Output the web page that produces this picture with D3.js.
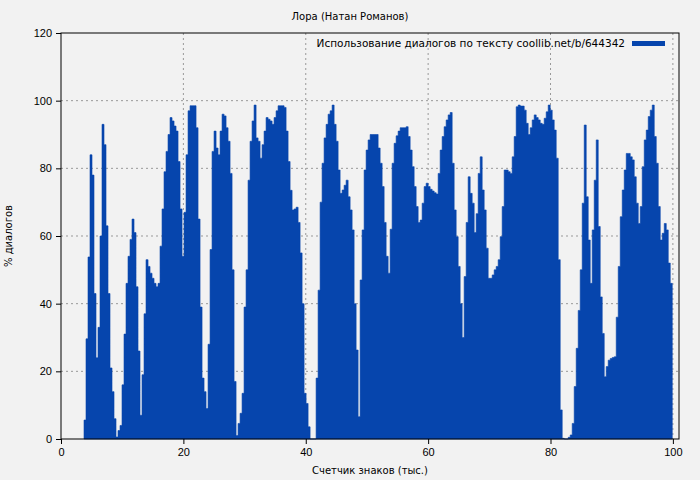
<!DOCTYPE html>
<html><head><meta charset="utf-8">
<script src="https://cdn.jsdelivr.net/npm/d3@7"></script>
<style>
body{margin:0;background:#f2f2f2;}
svg{font-family:"DejaVu Sans",sans-serif;}
</style></head>
<body><div id="chart"></div>
<script>
var title = 'Лора (Натан Романов)';
var legendLabel = 'Использование диалогов по тексту coollib.net/b/644342';
var xLabel = 'Счетчик знаков (тыс.)';
var yLabel = '% диалогов';
var xTicks = [0, 20, 40, 60, 80, 100];
var yTicks = [0, 20, 40, 60, 80, 100, 120];

// bins of the text, thousands of characters
var binStart = 3.76;
var binStep = 0.327;

// percent of dialogue per bin
var part1 = [5.6,29.6,53.8,84,78,43,24,33,60,93,87,63,43,21,14,6,0.6,2.5,4,16,31,46,54,59,65,61,45,26,7,19,37,53,51,49,47.5,46,45,46,57,68,79,85,90,95,94,92.5,91,82,68,54,67,84,97,98.5,98.5,98.5,92,65,39,18,14,9,28,56,85,91,86,84];
var part2 = [91,96,95.5,92,88,78.5,50,17,1,4.6,7.6,13.5,39,50,76.5,88,94,98.7,89,88,83,87,91,95,94.5,94,93,95,97,98.5,98.5,98.5,98,91,82,73.5,67.7,68,68.5,64,55,40,13.5,10.5,3.6,0,0,0,18,44,70,81.5,89,93,96,97,98.7,93,88,79.5,72.6,73.6,75,76.5,71.6,67.7,61.8,40,26.3,6.6,47,61.8,79.5,85.4,88.4,90,90];
var part3 = [90,90,86,81.5,74.6,64,54,49,62,81.5,87.4,89.6,91,92,92,92,92.3,89.4,85.4,80.5,74.6,68.7,64,64.7,69.7,74.6,75.6,74.6,73.8,73.3,72.8,72.4,78.5,85.4,89.4,92.3,94.3,95.8,96.5,81.5,67.7,59.8,51,40,30,48,64,77.5,72.6,69.7,61,66.6,78.5,83.4,73.6,67.7,56.4,47.5,47.5,48.5,50,51,53,59.8,68.7,79.5,79.5,79,78.5,83.4,89.4,98.2,98.7,98.4,98.4,97.2,93.3];
var part4 = [90,92,94.3,95.8,95,94.3,93.3,93,94.8,96.7,98.7,97.2,94.3,91.3,83,53,8.6,0.2,0,0,0.5,1.2,4.6,15.5,26.8,38,50,69.7,92.8,71.6,58.8,46,61.8,76.5,88.4,62.8,42,31.2,18.4,21.4,23.3,23.8,24.1,24.3,36,51,65.7,73.6,79.5,84.4,84.4,83.4,82.5,77.5,69.7,63.7,68.7,80.5,88.4,91.3,95.3,97.2,98.7,89.4,81.5,68.7,58.8,60.8,63.7,61.8,52,46];

var values = part1.concat(part2, part3, part4);

var width = 700, height = 480;
var margin = { top: 33, right: 21, bottom: 41, left: 61 };
var innerWidth = width - margin.left - margin.right;
var innerHeight = height - margin.top - margin.bottom;

var data = values.map(function(v, i){ return { x: binStart + i * binStep, y: v }; });
data.push({ x: binStart + values.length * binStep, y: values[values.length - 1] });

var svg = d3.select('#chart').append('svg')
    .attr('width', width).attr('height', height);
svg.append('rect').attr('width', width).attr('height', height).attr('fill', '#f2f2f2');

var g = svg.append('g').attr('transform', 'translate(' + margin.left + ',' + margin.top + ')');

var x = d3.scaleLinear().domain([0, 101]).range([0, innerWidth]);
var y = d3.scaleLinear().domain([0, 120]).range([innerHeight, 0]);

// grid
g.append('g').selectAll('line')
    .data(xTicks.filter(function(t){ return t > 0 && t < 101; }))
    .enter().append('line')
    .attr('x1', function(d){ return x(d); }).attr('x2', function(d){ return x(d); })
    .attr('y1', 0).attr('y2', innerHeight)
    .attr('stroke', '#999').attr('stroke-dasharray', '2,3');
g.append('g').selectAll('line')
    .data(yTicks.filter(function(t){ return t > 0 && t < 120; }))
    .enter().append('line')
    .attr('x1', 0).attr('x2', innerWidth)
    .attr('y1', function(d){ return y(d); }).attr('y2', function(d){ return y(d); })
    .attr('stroke', '#999').attr('stroke-dasharray', '2,3');

var area = d3.area()
    .x(function(d){ return x(d.x); })
    .y0(innerHeight)
    .y1(function(d){ return y(d.y); })
    .curve(d3.curveStepAfter);

g.append('path').datum(data)
    .attr('fill', '#0645ad')
    .attr('stroke', '#0645ad')
    .attr('stroke-width', 0.6)
    .attr('stroke-linejoin', 'miter')
    .attr('d', area);

// frame
g.append('rect').attr('width', innerWidth).attr('height', innerHeight)
    .attr('fill', 'none').attr('stroke', '#000').attr('stroke-width', 1);

var xAxis = g.append('g')
    .attr('transform', 'translate(0,' + innerHeight + ')')
    .call(d3.axisBottom(x).tickValues(xTicks).tickSize(5).tickPadding(4));
var yAxis = g.append('g')
    .call(d3.axisLeft(y).tickValues(yTicks).tickSize(5).tickPadding(4));
[xAxis, yAxis].forEach(function(a){
    a.select('.domain').remove();
    a.selectAll('text').style('font-size', '11px').attr('fill', '#000');
});

svg.append('text')
    .attr('x', width / 2).attr('y', 20)
    .attr('text-anchor', 'middle').style('font-size', '10px')
    .text(title);

svg.append('text')
    .attr('x', margin.left + innerWidth / 2).attr('y', 474)
    .attr('text-anchor', 'middle').style('font-size', '10px')
    .text(xLabel);

svg.append('text')
    .attr('transform', 'rotate(-90)')
    .attr('x', -(margin.top + innerHeight / 2)).attr('y', 12)
    .attr('text-anchor', 'middle').style('font-size', '10px')
    .text(yLabel);

// legend
var legend = g.append('g').attr('transform', 'translate(' + (innerWidth - 54) + ',10)');
legend.append('text')
    .attr('x', 0).attr('y', 4)
    .attr('text-anchor', 'end').style('font-size', '10.5px')
    .text(legendLabel);
legend.append('rect')
    .attr('x', 7).attr('y', -2)
    .attr('width', 33).attr('height', 5)
    .attr('fill', '#0645ad');
</script>
</body></html>
